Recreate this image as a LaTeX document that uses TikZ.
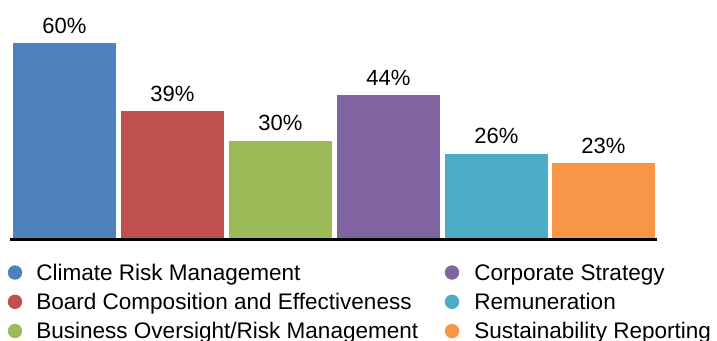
\documentclass[tikz,border=0pt]{standalone}
\usepackage{fontspec}
\setmainfont{Liberation Sans}
\usetikzlibrary{calc}

\definecolor{climate}{HTML}{4F81BD}
\definecolor{board}{HTML}{C0504D}
\definecolor{oversight}{HTML}{9BBB59}
\definecolor{strategy}{HTML}{8064A2}
\definecolor{remuneration}{HTML}{4BACC6}
\definecolor{reporting}{HTML}{F79646}

\begin{document}
\begin{tikzpicture}[x=0.75pt, y=-0.75pt, font=\fontsize{16.5}{19}\selectfont,
		value/.style={anchor=base, inner sep=0pt},
		entry/.style={anchor=base west, inner sep=0pt, font=\fontsize{16.9}{19}\selectfont},
		dot/.style={radius=5.4pt}]
			\def\w{103};
			\def\base{238};
			\def\s{3.25};
			\def\gap{10};

			\useasboundingbox (0,0) rectangle (717,340);

			\coordinate (climate bar) at (13,\base);
			\coordinate (board bar) at (121,\base);
			\coordinate (oversight bar) at (229,\base);
			\coordinate (strategy bar) at (337,\base);
			\coordinate (remuneration bar) at (445,\base);
			\coordinate (reporting bar) at (552,\base);

			\begin{scope}
				\fill [climate] (climate bar) rectangle ++(\w,-60*\s);
				\fill [board] (board bar) rectangle ++(\w,-39*\s);
				\fill [oversight] (oversight bar) rectangle ++(\w,-30*\s);
				\fill [strategy] (strategy bar) rectangle ++(\w,-44*\s);
				\fill [remuneration] (remuneration bar) rectangle ++(\w,-26*\s);
				\fill [reporting] (reporting bar) rectangle ++(\w,-23*\s);
			\end{scope}

			\begin{scope}
				\node [value] (climate value) at ($ (climate bar) + (\w/2,-60*\s-\gap) $) {60\%};
				\node [value] (board value) at ($ (board bar) + (\w/2,-39*\s-\gap) $) {39\%};
				\node [value] (oversight value) at ($ (oversight bar) + (\w/2,-30*\s-\gap) $) {30\%};
				\node [value] (strategy value) at ($ (strategy bar) + (\w/2,-44*\s-\gap) $) {44\%};
				\node [value] (remuneration value) at ($ (remuneration bar) + (\w/2,-26*\s-\gap) $) {26\%};
				\node [value] (reporting value) at ($ (reporting bar) + (\w/2,-23*\s-\gap) $) {23\%};
			\end{scope}

			\draw [line width=1.6pt] (10,239.5) -- (657,239.5);

			\begin{scope}
				\fill [climate, dot] (15,272.5) circle;
				\fill [board, dot] (15,301.8) circle;
				\fill [oversight, dot] (15,331) circle;
				\fill [strategy, dot] (452,272.5) circle;
				\fill [remuneration, dot] (452,301.8) circle;
				\fill [reporting, dot] (452,331) circle;

				\node [entry] (climate entry) at (36,280) {Climate Risk Management};
				\node [entry] (board entry) at (36,309.3) {Board Composition and Effectiveness};
				\node [entry] (oversight entry) at (36,338.5) {Business Oversight/Risk Management};
				\node [entry] (strategy entry) at (474,280) {Corporate Strategy};
				\node [entry] (remuneration entry) at (474,309.3) {Remuneration};
				\node [entry] (reporting entry) at (474,338.5) {Sustainability Reporting};
			\end{scope}
		\end{tikzpicture}
\end{document}
